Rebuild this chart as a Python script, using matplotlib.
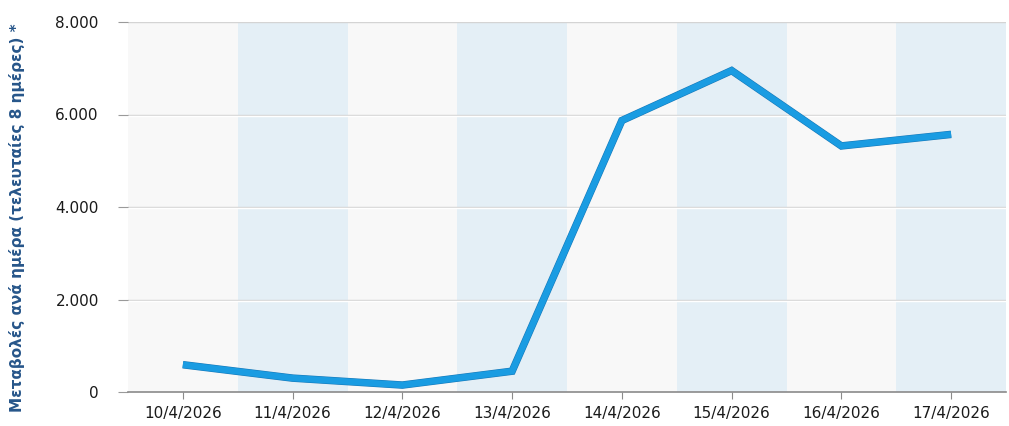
import matplotlib
matplotlib.use("Agg")
import matplotlib.pyplot as plt
import matplotlib.patheffects as pe
from matplotlib.ticker import FuncFormatter

plt.rcParams["font.family"] = ["DejaVu Sans"]

dates = ["10/4/2026", "11/4/2026", "12/4/2026", "13/4/2026",
         "14/4/2026", "15/4/2026", "16/4/2026", "17/4/2026"]
values = [590, 300, 150, 450, 5870, 6950, 5320, 5570]
yticks = [0, 2000, 4000, 6000, 8000]
ylabel = "Μεταβολές ανά ημέρα (τελευταίες 8 ημέρες) *"

fig = plt.figure(figsize=(10.09, 4.26), dpi=100)
ax = fig.add_axes([128/1009, 1 - 392/426, (1006-128)/1009, (392-22)/426])

band_colors = ["#f8f8f8", "#e4eff6"]
for i in range(len(dates)):
    ax.axvspan(i - 0.5, i + 0.5, color=band_colors[i % 2], lw=0, zorder=0)

for t in yticks[1:]:
    ax.axhline(t, color="#d4d4d4", lw=1.0, zorder=1)
    if t < yticks[-1]:
        ax.axhline(t - 25, color="white", lw=1.0, zorder=1)

x = list(range(len(dates)))
ax.plot(x, values, color="#1a9ce2", lw=4.6, solid_joinstyle="miter",
        solid_capstyle="butt", zorder=3,
        path_effects=[pe.Stroke(linewidth=5.4, foreground="#1678b8"), pe.Normal()])

ax.set_xlim(-0.5, len(dates) - 0.5)
ax.set_ylim(0, 8000)
ax.set_xticks(x)
ax.set_xticklabels(dates)
ax.set_yticks(yticks)
ax.yaxis.set_major_formatter(FuncFormatter(lambda v, p: f"{int(v):,}".replace(",", ".")))

for s in ["top", "right", "left"]:
    ax.spines[s].set_visible(False)
ax.spines["bottom"].set_color("#8a8a8a")
ax.spines["bottom"].set_linewidth(1.2)

ax.tick_params(axis="x", length=5, color="#8a8a8a", pad=5, labelsize=11, labelcolor="#1a1a1a")
ax.tick_params(axis="y", length=7, color="#9a9a9a", pad=14, labelsize=11, labelcolor="#1a1a1a")

fig.text(17/1009, 1 - 218/426, ylabel, rotation=90, ha="center", va="center",
         color="#27568a", fontsize=11, fontweight="semibold")

fig.savefig("out.png", dpi=100)
